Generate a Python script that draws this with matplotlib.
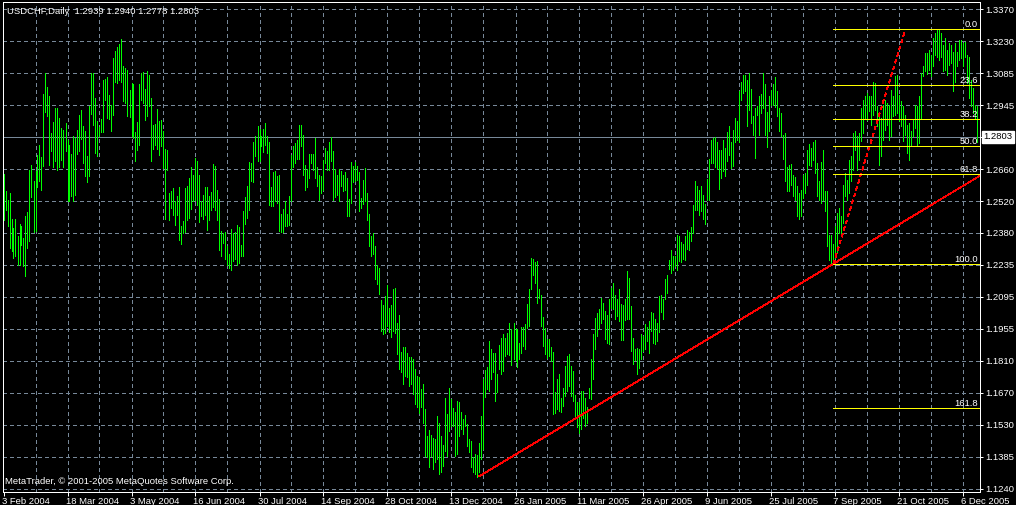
import matplotlib
matplotlib.use("Agg")
import matplotlib.pyplot as plt
import numpy as np
from matplotlib.transforms import blended_transform_factory

plt.rcParams["font.family"] = ["Liberation Sans", "DejaVu Sans"]
plt.rcParams["lines.scale_dashes"] = False

# --- data (daily USDCHF bars, prices in pips: 12639 -> 1.2639) ---
symbol = "USDCHF,Daily"
last_open = 1.2939
last_close = 1.2803
bid = 1.2803

high_pips = [
    12639, 12564, 12524, 12555, 12440, 12396, 12440, 12362, 12418, 12406, 12355, 12450,
    12470, 12654, 12679, 12608, 12650, 12723, 12768, 12712, 12994, 13085, 13022, 12982,
    12819, 12867, 12930, 12930, 12886, 12842, 12834, 12864, 12790, 12768, 12726, 12808,
    12797, 12834, 12901, 12923, 12849, 12830, 12719, 12940, 13085, 13085, 12974, 12871,
    12845, 12881, 13056, 13060, 13070, 12989, 12945, 13152, 13184, 13203, 13214, 13236,
    13118, 13107, 13100, 13011, 13041, 13036, 12824, 12868, 13038, 13085, 13091, 13016,
    13095, 13075, 12974, 12856, 12861, 12927, 12874, 12878, 12827, 12750, 12746, 12554,
    12561, 12576, 12520, 12542, 12579, 12409, 12428, 12576, 12583, 12620, 12667, 12635,
    12709, 12694, 12635, 12520, 12546, 12580, 12580, 12539, 12560, 12684, 12672, 12568,
    12529, 12387, 12377, 12380, 12318, 12281, 12394, 12377, 12380, 12413, 12402, 12322,
    12475, 12535, 12586, 12691, 12687, 12781, 12805, 12852, 12837, 12805, 12837, 12864,
    12805, 12782, 12580, 12645, 12653, 12630, 12635, 12462, 12483, 12517, 12461, 12539,
    12723, 12760, 12775, 12790, 12856, 12856, 12812, 12676, 12660, 12728, 12728, 12728,
    12797, 12667, 12635, 12628, 12701, 12753, 12738, 12780, 12800, 12741, 12660, 12635,
    12660, 12653, 12635, 12645, 12620, 12527, 12690, 12675, 12693, 12672, 12648, 12532,
    12613, 12665, 12554, 12462, 12362, 12374, 12318, 12236, 12219, 12077, 12056, 12096,
    12145, 12042, 12056, 12126, 12130, 11975, 12011, 11848, 11870, 11868, 11842, 11826,
    11826, 11819, 11772, 11742, 11735, 11683, 11705, 11594, 11476, 11501, 11481, 11466,
    11462, 11562, 11535, 11476, 11435, 11642, 11571, 11690, 11639, 11599, 11583, 11631,
    11624, 11580, 11550, 11568, 11528, 11462, 11454, 11380, 11395, 11391, 11444, 11562,
    11727, 11767, 11783, 11896, 11860, 11842, 11845, 11749, 11878, 11912, 11929, 11912,
    11931, 11975, 11951, 11978, 11948, 11948, 11889, 11960, 11960, 11971, 12059, 12126,
    12266, 12261, 12247, 12251, 12126, 12099, 12005, 11956, 11904, 11904, 11872, 11848,
    11672, 11727, 11749, 11646, 11690, 11786, 11830, 11838, 11786, 11764, 11656, 11624,
    11624, 11675, 11675, 11646, 11602, 11690, 11816, 11926, 11997, 12022, 12037, 12089,
    12067, 12030, 12010, 12084, 12133, 12155, 12103, 12084, 12126, 12059, 12055, 12081,
    12207, 12177, 12052, 11912, 11860, 11867, 11860, 11926, 11919, 11971, 11960, 11985,
    12025, 12022, 11996, 11978, 12096, 12103, 12081, 12170, 12188, 12258, 12300, 12276,
    12273, 12369, 12362, 12335, 12325, 12362, 12391, 12379, 12402, 12502, 12605, 12586,
    12568, 12586, 12546, 12505, 12616, 12706, 12790, 12797, 12802, 12782, 12743, 12745,
    12790, 12753, 12822, 12853, 12782, 12834, 12886, 12871, 13004, 13044, 13078, 13078,
    13055, 13085, 13014, 12896, 12930, 12940, 12985, 12992, 13085, 13038, 12912, 12986,
    13011, 13038, 13067, 13007, 12930, 12908, 12812, 12819, 12667, 12679, 12683, 12635,
    12624, 12583, 12554, 12568, 12635, 12642, 12743, 12772, 12753, 12782, 12790, 12686,
    12605, 12689, 12745, 12561, 12561, 12369, 12369, 12325, 12406, 12465, 12487, 12451,
    12591, 12642, 12613, 12702, 12716, 12820, 12827, 12805, 12820, 12930, 12967, 12982,
    12997, 12982, 12982, 13048, 13041, 12938, 12908, 12886, 12945, 12967, 12952, 12945,
    13011, 12982, 13071, 13078, 12989, 12960, 12938, 12901, 12856, 12864, 12827, 12879,
    12945, 12938, 12982, 13085, 13115, 13174, 13174, 13189, 13166, 13240, 13262, 13280,
    13280, 13262, 13211, 13240, 13189, 13218, 13211, 13181, 13218, 13181, 13233, 13233,
    13218, 13225, 13166, 13159, 13056, 13019, 12945, 12940,
]

low_pips = [
    12433, 12480, 12406, 12309, 12295, 12264, 12273, 12236, 12236, 12321, 12229, 12185,
    12310, 12340, 12535, 12380, 12384, 12579, 12605, 12569, 12672, 12911, 12896, 12679,
    12738, 12669, 12694, 12657, 12667, 12701, 12667, 12738, 12520, 12520, 12539, 12520,
    12546, 12728, 12738, 12793, 12687, 12628, 12601, 12628, 12904, 12856, 12731, 12716,
    12805, 12822, 12822, 12964, 12886, 12881, 12830, 12901, 13048, 13041, 13056, 13048,
    12960, 12952, 12893, 12890, 12805, 12797, 12697, 12743, 12765, 12967, 12955, 12878,
    12896, 12940, 12694, 12749, 12768, 12749, 12723, 12760, 12664, 12436, 12657, 12433,
    12487, 12458, 12413, 12458, 12347, 12325, 12377, 12380, 12433, 12443, 12483, 12517,
    12524, 12502, 12424, 12450, 12436, 12458, 12388, 12433, 12480, 12492, 12480, 12433,
    12300, 12273, 12332, 12261, 12232, 12222, 12211, 12251, 12259, 12236, 12241, 12273,
    12273, 12416, 12443, 12480, 12605, 12601, 12716, 12694, 12694, 12760, 12734, 12768,
    12731, 12502, 12498, 12498, 12517, 12509, 12384, 12380, 12380, 12409, 12406, 12413,
    12517, 12669, 12687, 12704, 12704, 12760, 12635, 12566, 12580, 12620, 12687, 12657,
    12620, 12586, 12524, 12554, 12568, 12687, 12657, 12657, 12697, 12524, 12536, 12546,
    12517, 12583, 12561, 12569, 12451, 12453, 12510, 12601, 12608, 12613, 12473, 12487,
    12505, 12517, 12433, 12318, 12273, 12281, 12170, 12148, 12104, 11941, 11929, 11934,
    11963, 11937, 11915, 11941, 11931, 11841, 11772, 11760, 11705, 11742, 11735, 11695,
    11705, 11661, 11617, 11602, 11577, 11602, 11535, 11388, 11383, 11339, 11388, 11329,
    11358, 11373, 11307, 11314, 11344, 11407, 11388, 11498, 11518, 11521, 11388, 11395,
    11476, 11506, 11484, 11518, 11432, 11406, 11336, 11317, 11307, 11292, 11314, 11373,
    11417, 11649, 11683, 11676, 11730, 11757, 11631, 11671, 11771, 11749, 11764, 11830,
    11838, 11833, 11789, 11816, 11808, 11782, 11816, 11845, 11875, 11860, 11956, 11963,
    12126, 12188, 12155, 12067, 12089, 11963, 11875, 11838, 11823, 11830, 11808, 11572,
    11579, 11594, 11587, 11582, 11609, 11653, 11675, 11698, 11653, 11631, 11550, 11517,
    11488, 11506, 11557, 11520, 11535, 11646, 11641, 11727, 11860, 11919, 11948, 11978,
    11993, 11907, 11889, 11882, 12044, 12037, 11993, 12008, 11985, 11901, 11901, 11990,
    11993, 11993, 11853, 11793, 11813, 11749, 11779, 11819, 11853, 11860, 11897, 11845,
    11941, 11889, 11882, 11897, 11937, 12025, 11996, 12082, 12111, 12217, 12199, 12211,
    12229, 12211, 12251, 12247, 12261, 12258, 12303, 12300, 12340, 12376, 12477, 12480,
    12458, 12472, 12436, 12416, 12524, 12524, 12686, 12686, 12669, 12660, 12571, 12620,
    12650, 12627, 12694, 12723, 12664, 12672, 12778, 12790, 12782, 12967, 12996, 13004,
    12849, 12923, 12864, 12812, 12709, 12900, 12812, 12908, 12930, 12812, 12756, 12827,
    12945, 12945, 12937, 12893, 12827, 12805, 12704, 12605, 12564, 12564, 12590, 12539,
    12524, 12450, 12436, 12450, 12531, 12554, 12590, 12679, 12675, 12701, 12642, 12542,
    12524, 12509, 12524, 12472, 12317, 12258, 12244, 12240, 12266, 12288, 12377, 12369,
    12421, 12539, 12524, 12554, 12606, 12657, 12746, 12657, 12702, 12783, 12820, 12886,
    12879, 12916, 12856, 12901, 12923, 12849, 12676, 12716, 12790, 12834, 12856, 12790,
    12805, 12893, 12901, 12908, 12871, 12849, 12783, 12812, 12731, 12702, 12768, 12805,
    12842, 12768, 12775, 12882, 13071, 13093, 13082, 13100, 13071, 13115, 13166, 13159,
    13144, 13159, 13093, 13100, 13078, 13122, 13130, 13004, 13048, 13115, 13144, 13152,
    13115, 13159, 13041, 12975, 12938, 12908, 12886, 12778,
]

date_labels = [
    "3 Feb 2004", "18 Mar 2004", "3 May 2004", "16 Jun 2004", "30 Jul 2004",
    "14 Sep 2004", "28 Oct 2004", "13 Dec 2004", "26 Jan 2005", "11 Mar 2005",
    "26 Apr 2005", "9 Jun 2005", "25 Jul 2005", "7 Sep 2005", "21 Oct 2005",
    "6 Dec 2005",
]
price_ticks = [1.3370, 1.3228, 1.3086, 1.2944, 1.2802, 1.2660, 1.2518, 1.2376,
               1.2234, 1.2092, 1.1950, 1.1808, 1.1666, 1.1524, 1.1382, 1.1240]
price_labels = ["1.3370", "1.3230", "1.3085", "1.2945", "", "1.2660", "1.2520",
                "1.2380", "1.2235", "1.2095", "1.1955", "1.1810", "1.1670",
                "1.1530", "1.1385", "1.1240"]

# fibonacci retracement anchors (bar index, price)
fib_bar_low, fib_low = 415, 1.2240
fib_bar_high, fib_high = 451, 1.3280
fib_levels = [0.0, 23.6, 38.2, 50.0, 61.8, 100.0, 161.8]

# trend line anchors (bar index, price)
trend_bar1, trend_p1 = 238, 1.1297
trend_bar2, trend_p2 = 415, 1.2240

# --- drawing ---
W, H = 1016, 505
BAR = "#00ff00"
GRID = "#778899"
PX = 0.72  # one pixel in points at dpi 100
FS = 6.8

highs = np.array(high_pips) / 10000
lows = np.array(low_pips) / 10000
n = len(highs)
x = np.arange(n)

fig = plt.figure(figsize=(W / 100, H / 100), dpi=100, facecolor="black")
ax = fig.add_axes([2.5 / W, (H - 491.5) / H, 977.5 / W, 489.5 / H], facecolor="black")

x_right = -0.5 + 977.5 / 2
ax.set_xlim(-0.5, x_right)
ax.set_ylim(1.1240 - 2.5 * 0.00044375, 1.3370 + 7 * 0.00044375)

# grid
for p in price_ticks:
    ax.axhline(p, color=GRID, lw=PX, dashes=(2.88, 2.16), antialiased=False, zorder=0)
for b in range(16, n, 16):
    ax.axvline(b, color=GRID, lw=PX, dashes=(2.88, 2.16), antialiased=False, zorder=0)

# current bid line
ax.axhline(bid, color=GRID, lw=PX, antialiased=False, zorder=1)

# price bars
ax.vlines(x, lows, highs, colors=BAR, linewidth=PX, antialiased=False, zorder=2)

# trend line (ray)
slope = (trend_p2 - trend_p1) / (trend_bar2 - trend_bar1)
ax.plot([trend_bar1, x_right], [trend_p1, trend_p1 + slope * (x_right - trend_bar1)],
        color="red", lw=0.6, antialiased=False, zorder=3)

# fibonacci
ax.plot([fib_bar_low, fib_bar_high], [fib_low, fib_high], color="red", lw=0.6,
        dashes=(2.16, 2.16), antialiased=False, zorder=3)
for lvl in fib_levels:
    p = fib_high - (fib_high - fib_low) * lvl / 100
    ax.hlines(p, fib_bar_low, x_right, color="yellow", lw=PX, antialiased=False, zorder=3)
    ax.text(x_right - 1, p, f"{lvl:.1f}", ha="right", va="bottom", color="white",
            fontsize=FS, zorder=4)

# axes styling
for s in ax.spines.values():
    s.set_color("white")
    s.set_linewidth(PX)

ax.yaxis.tick_right()
ax.set_yticks(price_ticks)
ax.set_yticklabels(price_labels)
ax.tick_params(axis="y", colors="white", length=2.5, width=PX, pad=1.5, labelsize=FS)

ax.set_xticks(range(0, n, 32))
ax.tick_params(axis="x", colors="white", length=3, width=PX, labelbottom=False)

trans_x = blended_transform_factory(ax.transData, ax.transAxes)
for i, lab in enumerate(date_labels):
    ax.text(i * 32 - 1, (491.5 - 503.5) / 489.5, lab, transform=trans_x, ha="left",
            va="baseline", color="white", fontsize=FS, clip_on=False)

trans_y = blended_transform_factory(ax.transAxes, ax.transData)
ax.text((983.5 - 2.5) / 977.5, bid, f"{bid:.4f}", transform=trans_y, ha="left",
        va="center", color="black", fontsize=FS, clip_on=False,
        bbox=dict(facecolor="white", edgecolor="white", pad=1.2))

title = f"{symbol}  {last_open:.4f} {highs[-1]:.4f} {lows[-1]:.4f} {last_close:.4f}"
fig.text(7 / W, 1 - 14 / H, title, color="white", fontsize=FS, va="baseline")
fig.text(5 / W, 1 - 483.5 / H, "MetaTrader, \u00a9 2001-2005 MetaQuotes Software Corp.",
         color="white", fontsize=FS, va="baseline")

fig.savefig("out.png", dpi=100, facecolor="black")
plt.close(fig)
